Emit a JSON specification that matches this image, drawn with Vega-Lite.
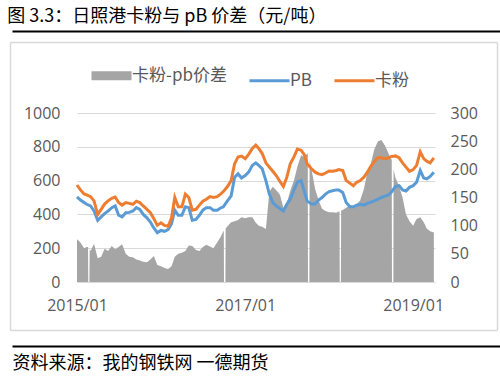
{
  "$schema": "https://vega.github.io/schema/vega-lite/v6.json",
  "padding": {"left": 7, "right": 5, "top": 8, "bottom": 3},
  "title": {"text": "图 3.3：日照港卡粉与 pB 价差（元/吨）", "anchor": "start", "font": "Noto Sans CJK SC", "fontSize": 18, "fontWeight": "normal", "color": "#000000", "offset": 5},
  "config": {"view": {"stroke": null}, "font": "Open Sans"},
  "width": 423, "height": 169,
  "data": {"values": [
    {"d":"2015-01-01","卡粉":574,"PB":503,"价差":76},
    {"d":"2015-01-16","卡粉":545,"PB":485,"价差":70},
    {"d":"2015-02-01","卡粉":521,"PB":470,"价差":60},
    {"d":"2015-02-12","卡粉":515,"PB":460,"价差":62},
    {"d":"2015-02-18","价差":62},
    {"d":"2015-02-19","价差":0},
    {"d":"2015-02-24","价差":0},
    {"d":"2015-02-25","价差":58},
    {"d":"2015-03-01","卡粉":505,"PB":450,"价差":55},
    {"d":"2015-03-16","卡粉":480,"PB":420,"价差":68},
    {"d":"2015-04-01","卡粉":400,"PB":365,"价差":42},
    {"d":"2015-04-16","卡粉":430,"PB":385,"价差":45},
    {"d":"2015-05-01","卡粉":461,"PB":405,"价差":59},
    {"d":"2015-05-16","卡粉":480,"PB":420,"价差":55},
    {"d":"2015-06-01","卡粉":495,"PB":440,"价差":64},
    {"d":"2015-06-16","卡粉":503,"PB":450,"价差":58},
    {"d":"2015-07-01","卡粉":470,"PB":395,"价差":62},
    {"d":"2015-07-16","卡粉":455,"PB":385,"价差":67},
    {"d":"2015-08-01","卡粉":470,"PB":410,"价差":50},
    {"d":"2015-08-16","卡粉":465,"PB":412,"价差":45},
    {"d":"2015-09-01","卡粉":460,"PB":420,"价差":44},
    {"d":"2015-09-16","卡粉":478,"PB":440,"价差":40},
    {"d":"2015-10-01","卡粉":470,"PB":430,"价差":38},
    {"d":"2015-10-16","卡粉":450,"PB":400,"价差":36},
    {"d":"2015-11-01","卡粉":430,"PB":380,"价差":35},
    {"d":"2015-11-16","卡粉":410,"PB":355,"价差":40},
    {"d":"2015-12-01","卡粉":375,"PB":320,"价差":46},
    {"d":"2015-12-16","卡粉":335,"PB":292,"价差":30},
    {"d":"2016-01-01","卡粉":350,"PB":305,"价差":28},
    {"d":"2016-01-16","卡粉":335,"PB":300,"价差":25},
    {"d":"2016-02-01","卡粉":330,"PB":310,"价差":23},
    {"d":"2016-02-16","卡粉":380,"PB":345,"价差":28},
    {"d":"2016-03-01","卡粉":500,"PB":425,"价差":45},
    {"d":"2016-03-16","卡粉":445,"PB":395,"价差":50},
    {"d":"2016-04-01","卡粉":445,"PB":395,"价差":52},
    {"d":"2016-04-16","卡粉":520,"PB":445,"价差":55},
    {"d":"2016-05-01","卡粉":500,"PB":440,"价差":65},
    {"d":"2016-05-16","卡粉":425,"PB":365,"价差":64},
    {"d":"2016-06-01","卡粉":430,"PB":370,"价差":57},
    {"d":"2016-06-16","卡粉":455,"PB":395,"价差":55},
    {"d":"2016-07-01","卡粉":478,"PB":425,"价差":62},
    {"d":"2016-07-16","卡粉":490,"PB":440,"价差":66},
    {"d":"2016-08-01","卡粉":505,"PB":440,"价差":63},
    {"d":"2016-08-16","卡粉":500,"PB":425,"价差":60},
    {"d":"2016-09-01","卡粉":505,"PB":425,"价差":70},
    {"d":"2016-09-16","卡粉":520,"PB":438,"价差":80},
    {"d":"2016-09-28","卡粉":535,"PB":445,"价差":90},
    {"d":"2016-09-30","价差":90},
    {"d":"2016-10-01","价差":0},
    {"d":"2016-10-07","价差":0},
    {"d":"2016-10-08","价差":95},
    {"d":"2016-10-16","卡粉":565,"PB":480,"价差":99},
    {"d":"2016-11-01","卡粉":600,"PB":510,"价差":106},
    {"d":"2016-11-16","卡粉":700,"PB":620,"价差":108},
    {"d":"2016-12-01","卡粉":740,"PB":640,"价差":110},
    {"d":"2016-12-16","卡粉":745,"PB":615,"价差":115},
    {"d":"2017-01-01","卡粉":730,"PB":630,"价差":113},
    {"d":"2017-01-16","卡粉":755,"PB":650,"价差":115},
    {"d":"2017-02-01","卡粉":790,"PB":690,"价差":115},
    {"d":"2017-02-16","卡粉":810,"PB":705,"价差":105},
    {"d":"2017-03-01","卡粉":790,"PB":690,"价差":100},
    {"d":"2017-03-16","卡粉":760,"PB":670,"价差":98},
    {"d":"2017-04-01","卡粉":705,"PB":600,"价差":94},
    {"d":"2017-04-16","卡粉":680,"PB":520,"价差":160},
    {"d":"2017-05-01","卡粉":655,"PB":470,"价差":169},
    {"d":"2017-05-16","卡粉":630,"PB":450,"价差":163},
    {"d":"2017-06-01","卡粉":595,"PB":435,"价差":155},
    {"d":"2017-06-16","卡粉":565,"PB":420,"价差":132},
    {"d":"2017-07-01","卡粉":620,"PB":460,"价差":140},
    {"d":"2017-07-16","卡粉":700,"PB":490,"价差":162},
    {"d":"2017-08-01","卡粉":740,"PB":545,"价差":180},
    {"d":"2017-08-16","卡粉":787,"PB":592,"价差":205},
    {"d":"2017-09-01","卡粉":780,"PB":600,"价差":225},
    {"d":"2017-09-16","卡粉":750,"PB":530,"价差":222},
    {"d":"2017-09-27","卡粉":700,"PB":480,"价差":228},
    {"d":"2017-09-30","价差":228},
    {"d":"2017-10-01","价差":0},
    {"d":"2017-10-07","价差":0},
    {"d":"2017-10-08","价差":215},
    {"d":"2017-10-16","卡粉":670,"PB":462,"价差":200},
    {"d":"2017-11-01","卡粉":650,"PB":462,"价差":165},
    {"d":"2017-11-16","卡粉":640,"PB":485,"价差":145},
    {"d":"2017-12-01","卡粉":635,"PB":500,"价差":130},
    {"d":"2017-12-16","卡粉":645,"PB":520,"价差":126},
    {"d":"2018-01-01","卡粉":657,"PB":535,"价差":124},
    {"d":"2018-01-16","卡粉":655,"PB":540,"价差":124},
    {"d":"2018-02-01","卡粉":660,"PB":545,"价差":123},
    {"d":"2018-02-12","卡粉":665,"PB":545,"价差":125},
    {"d":"2018-02-15","价差":125},
    {"d":"2018-02-16","价差":0},
    {"d":"2018-02-21","价差":0},
    {"d":"2018-02-22","价差":127},
    {"d":"2018-03-01","卡粉":660,"PB":530,"价差":128},
    {"d":"2018-03-16","卡粉":600,"PB":470,"价差":132},
    {"d":"2018-04-01","卡粉":585,"PB":445,"价差":136},
    {"d":"2018-04-16","卡粉":570,"PB":445,"价差":135},
    {"d":"2018-05-01","卡粉":590,"PB":455,"价差":138},
    {"d":"2018-05-16","卡粉":600,"PB":460,"价差":145},
    {"d":"2018-06-01","卡粉":620,"PB":455,"价差":165},
    {"d":"2018-06-16","卡粉":650,"PB":465,"价差":195},
    {"d":"2018-07-01","卡粉":685,"PB":472,"价差":210},
    {"d":"2018-07-16","卡粉":712,"PB":480,"价差":235},
    {"d":"2018-08-01","卡粉":735,"PB":490,"价差":250},
    {"d":"2018-08-16","卡粉":735,"PB":500,"价差":252},
    {"d":"2018-09-01","卡粉":730,"PB":508,"价差":242},
    {"d":"2018-09-16","卡粉":735,"PB":515,"价差":228},
    {"d":"2018-09-27","卡粉":742,"PB":530,"价差":218},
    {"d":"2018-09-30","价差":218},
    {"d":"2018-10-01","价差":0},
    {"d":"2018-10-07","价差":0},
    {"d":"2018-10-08","价差":200},
    {"d":"2018-10-16","卡粉":746,"PB":565,"价差":185},
    {"d":"2018-11-01","卡粉":735,"PB":570,"价差":170},
    {"d":"2018-11-16","卡粉":705,"PB":545,"价差":150},
    {"d":"2018-12-01","卡粉":680,"PB":538,"价差":120},
    {"d":"2018-12-16","卡粉":655,"PB":560,"价差":108},
    {"d":"2019-01-01","卡粉":665,"PB":570,"价差":100},
    {"d":"2019-01-16","卡粉":690,"PB":590,"价差":112},
    {"d":"2019-02-01","卡粉":770,"PB":660,"价差":115},
    {"d":"2019-02-16","卡粉":730,"PB":615,"价差":106},
    {"d":"2019-03-01","卡粉":715,"PB":610,"价差":95},
    {"d":"2019-03-16","卡粉":705,"PB":625,"价差":90},
    {"d":"2019-04-01","卡粉":735,"PB":650,"价差":88}
  ]},
  "layer": [
    {
      "layer": [
        {
          "mark": {"type": "area", "interpolate": "linear"},
          "encoding": {
            "x": {"field": "d", "type": "temporal",
              "scale": {"type": "utc", "range": [65, 423], "domain": [{"year": 2015, "month": 1, "date": 1, "utc": true}, {"year": 2019, "month": 4, "date": 6, "utc": true}]},
              "axis": {"orient": "bottom", "title": null, "values": [{"year": 2015, "month": 1, "date": 1, "utc": true}, {"year": 2017, "month": 1, "date": 1, "utc": true}, {"year": 2019, "month": 1, "date": 1, "utc": true}],
                "format": "%Y/%m", "labelFlush": false, "ticks": false, "grid": false, "domain": false, "labelFontSize": 16, "labelColor": "#595959", "labelPadding": 15, "labelFont": "Open Sans"}},
            "y": {"field": "价差", "type": "quantitative",
              "scale": {"domain": [0, 300]},
              "axis": {"orient": "right", "title": null, "values": [0, 50, 100, 150, 200, 250, 300], "grid": false, "ticks": false, "domain": false, "labelFontSize": 16, "labelColor": "#595959", "labelPadding": 15, "labelFont": "Open Sans"}},
            "color": {"datum": "卡粉-pb价差", "title": null,
              "scale": {"domain": ["卡粉-pb价差", "PB", "卡粉"], "range": ["#a5a5a5", "#5b9bd5", "#ed7d31"]},
              "legend": {"orient": "none", "legendX": 91, "legendY": -46, "direction": "horizontal", "title": null,
                "symbolType": "stroke", "symbolSize": 1600, "symbolStrokeWidth": 3,
                "labelFontSize": 17, "labelColor": "#595959", "labelFont": "Noto Sans CJK SC", "columnPadding": 16, "labelOffset": 12,
                "encode": {"symbols": {"update": {"strokeWidth": {"signal": "datum.value === '卡粉-pb价差' ? 9 : 3"}}}}}}
          }
        },
        {
          "transform": [{"fold": ["PB", "卡粉"], "as": ["key", "value"]}, {"filter": "isValid(datum.value)"}],
          "mark": {"type": "line", "strokeWidth": 3, "invalid": "filter"},
          "encoding": {
            "x": {"field": "d", "type": "temporal"},
            "y": {"field": "value", "type": "quantitative",
              "scale": {"domain": [0, 1000]},
              "axis": {"orient": "left", "offset": -65, "title": null, "values": [0, 200, 400, 600, 800, 1000], "format": "d", "grid": true, "gridColor": "#d9d9d9", "gridWidth": 1, "ticks": false, "domain": false, "labelFontSize": 16, "labelColor": "#595959", "labelPadding": 17, "labelFont": "Open Sans"}},
            "color": {"field": "key", "type": "nominal", "title": null}
          }
        }
      ],
      "resolve": {"scale": {"y": "independent"}}
    },
    {
      "data": {"values": [{}]},
      "mark": {"type": "point", "opacity": 0},
      "encoding": {
        "x": {"datum": 0, "type": "quantitative",
          "scale": {"domain": [0, 1], "range": [0, 488]},
          "axis": {"orient": "top", "offset": 82, "title": null, "labels": false, "ticks": false, "grid": false, "domainColor": "#000000", "domainWidth": 2}}
      }
    },
    {
      "data": {"values": [{}]},
      "mark": {"type": "point", "opacity": 0},
      "encoding": {
        "x": {"datum": 0, "type": "quantitative",
          "scale": {"domain": [0, 1], "range": [0, 488]},
          "axis": {"orient": "bottom", "offset": 64, "labels": false, "ticks": false, "grid": false, "domainColor": "#000000", "domainWidth": 2,
            "title": "资料来源：我的钢铁网 一德期货", "titleAnchor": "start", "titleAlign": "left", "titleFont": "Noto Sans CJK SC", "titleFontSize": 18, "titleFontWeight": "normal", "titleColor": "#000000", "titlePadding": 8}}
      }
    },
    {
      "data": {"values": [{}]},
      "mark": {"type": "point", "opacity": 0},
      "encoding": {
        "x": {"datum": 0, "type": "quantitative",
          "scale": {"domain": [0, 1], "range": [-2, 485]},
          "axis": {"orient": "top", "offset": 71, "title": null, "labels": false, "ticks": false, "grid": false, "domainColor": "#d9d9d9", "domainWidth": 1.5}}
      }
    },
    {
      "data": {"values": [{}]},
      "mark": {"type": "point", "opacity": 0},
      "encoding": {
        "x": {"datum": 0, "type": "quantitative",
          "scale": {"domain": [0, 1], "range": [-2, 485]},
          "axis": {"orient": "bottom", "offset": 48, "title": null, "labels": false, "ticks": false, "grid": false, "domainColor": "#d9d9d9", "domainWidth": 1.5}}
      }
    },
    {
      "data": {"values": [{}]},
      "mark": {"type": "point", "opacity": 0},
      "encoding": {
        "y": {"datum": 0, "type": "quantitative",
          "scale": {"domain": [0, 1], "range": [217, -71]},
          "axis": {"orient": "left", "offset": 2, "title": null, "labels": false, "ticks": false, "grid": false, "domainColor": "#d9d9d9", "domainWidth": 1.5}}
      }
    },
    {
      "data": {"values": [{}]},
      "mark": {"type": "point", "opacity": 0},
      "encoding": {
        "y": {"datum": 0, "type": "quantitative",
          "scale": {"domain": [0, 1], "range": [217, -71]},
          "axis": {"orient": "right", "offset": 62, "title": null, "labels": false, "ticks": false, "grid": false, "domainColor": "#d9d9d9", "domainWidth": 1.5}}
      }
    }
  ],
  "resolve": {"scale": {"x": "independent", "y": "independent"}, "axis": {"x": "independent", "y": "independent"}}
}
